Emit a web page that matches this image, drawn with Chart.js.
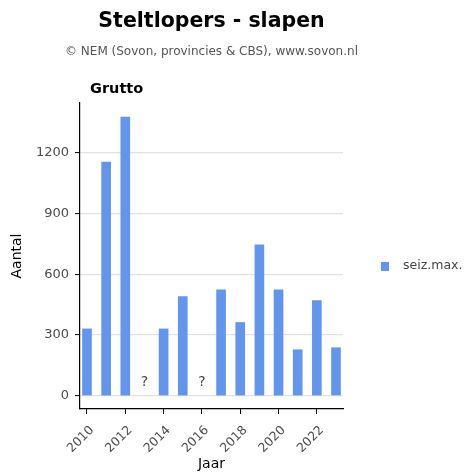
<!DOCTYPE html>
<html><head><meta charset="utf-8">
<script src="https://cdn.jsdelivr.net/npm/chart.js@4.4.1/dist/chart.umd.min.js"></script>
<style>html,body{margin:0;padding:0;background:#fff;}</style>
</head><body>
<canvas id="c" width="466" height="475"></canvas>
<script>
const chartTitle = 'Steltlopers - slapen';
const chartSubtitle = '© NEM (Sovon, provincies & CBS), www.sovon.nl';
const panelLabel = 'Grutto';
const seriesName = 'seiz.max.';
const years = [2010, 2011, 2012, 2013, 2014, 2015, 2016, 2017, 2018, 2019, 2020, 2021, 2022, 2023];
const values = [330, 1155, 1378, null, 330, 490, null, 523, 362, 746, 523, 227, 470, 237];
const missingMark = '?';
const yTicks = [0, 300, 600, 900, 1200];
const xTicks = [2010, 2012, 2014, 2016, 2018, 2020, 2022];
const xTitle = 'Jaar';
const yTitle = 'Aantal';

const FONT = '"DejaVu Sans", "Liberation Sans", Arial, sans-serif';
const BAR = '#6495ED';

const swatch = document.createElement('canvas');
swatch.width = 8; swatch.height = 9;
(function(){ const g = swatch.getContext('2d'); g.fillStyle = BAR; g.fillRect(0,0,8,9); })();

const textPlugin = {
  id: 'textPlugin',
  beforeUpdate(chart) {
    const lg = chart.legend;
    if (lg && !lg._wPatched) {
      const f = lg.fit;
      lg.fit = function(){ f.call(this); this.width = 123; };
      lg._wPatched = true;
    }
  },
  afterLayout(chart) {
    if (chart.legend) { chart.legend.top += 10; chart.legend.bottom += 10; }
  },
  afterDraw(chart) {
    const ctx = chart.ctx, ca = chart.chartArea;
    const cx = (ca.left + ca.right) / 2;
    ctx.save();
    ctx.textBaseline = 'alphabetic';
    ctx.textAlign = 'center';
    ctx.fillStyle = '#000';
    ctx.font = 'bold 20.5px ' + FONT;
    ctx.fillText(chartTitle, cx, 27);
    ctx.fillStyle = '#555';
    ctx.font = '12px ' + FONT;
    ctx.fillText(chartSubtitle, cx, 55);
    ctx.textAlign = 'left';
    ctx.fillStyle = '#000';
    ctx.font = 'bold 14.5px ' + FONT;
    ctx.fillText(panelLabel, 90, 92.5);
    const xs = chart.scales.x, ys = chart.scales.y;
    ctx.textAlign = 'center';
    ctx.textBaseline = 'middle';
    ctx.fillStyle = '#444';
    ctx.font = '14px ' + FONT;
    years.forEach((yr, i) => {
      if (values[i] === null) ctx.fillText(missingMark, xs.getPixelForValue(yr), ys.getPixelForValue(0) - 13);
    });
    ctx.restore();
  }
};

new Chart(document.getElementById('c'), {
  type: 'bar',
  data: {
    datasets: [{
      label: seriesName,
      data: years.map((y, i) => ({ x: y, y: values[i] })),
      backgroundColor: BAR,
      borderWidth: 0,
      barThickness: 9
    }]
  },
  options: {
    responsive: false,
    devicePixelRatio: 1,
    animation: false,
    layout: { padding: { top: 103, left: 0, right: 0, bottom: 0 } },
    plugins: {
      tooltip: { enabled: false },
      title: { display: false },
      legend: {
        position: 'right',
        fullSize: false,
        align: 'center',
        labels: {
          usePointStyle: true,
          pointStyle: swatch,
          pointStyleWidth: 24.5,
          boxHeight: 9,
          padding: 29.25,
          color: '#444',
          font: { family: FONT, size: 12.5 }
        }
      }
    },
    scales: {
      x: {
        type: 'linear',
        offset: false,
        min: 2009.635,
        max: 2023.365,
        afterBuildTicks: s => { s.ticks = xTicks.map(v => ({ value: v })); },
        afterFit: s => { s.height = 66; },
        grid: { offset: false, drawOnChartArea: false, drawTicks: true, tickLength: 5, tickColor: '#000', tickWidth: 1 },
        border: { display: true, color: '#000', width: 1.2 },
        ticks: {
          autoSkip: false, minRotation: 45, maxRotation: 45,
          color: '#4d4d4d', font: { family: FONT, size: 12.5 },
          padding: 9, labelOffset: 5,
          callback: v => String(v)
        },
        title: { display: true, text: xTitle, color: '#000', font: { family: FONT, size: 14 }, padding: { top: 0, bottom: 2 } }
      },
      y: {
        type: 'linear',
        min: -66,
        max: 1447,
        afterBuildTicks: s => { s.ticks = yTicks.map(v => ({ value: v })); },
        afterFit: s => { s.width = 80; },
        grid: { color: '#e2e2e2', lineWidth: 1.2, drawTicks: true, tickLength: 5, tickColor: '#000', tickWidth: 1 },
        border: { display: true, color: '#000', width: 1.2 },
        ticks: { color: '#4d4d4d', font: { family: FONT, size: 13 }, padding: 6, callback: v => String(v) },
        title: { display: true, text: yTitle, color: '#000', font: { family: FONT, size: 14 }, padding: { top: 8.6, bottom: 0 } }
      }
    }
  },
  plugins: [textPlugin]
});
</script>
</body></html>
